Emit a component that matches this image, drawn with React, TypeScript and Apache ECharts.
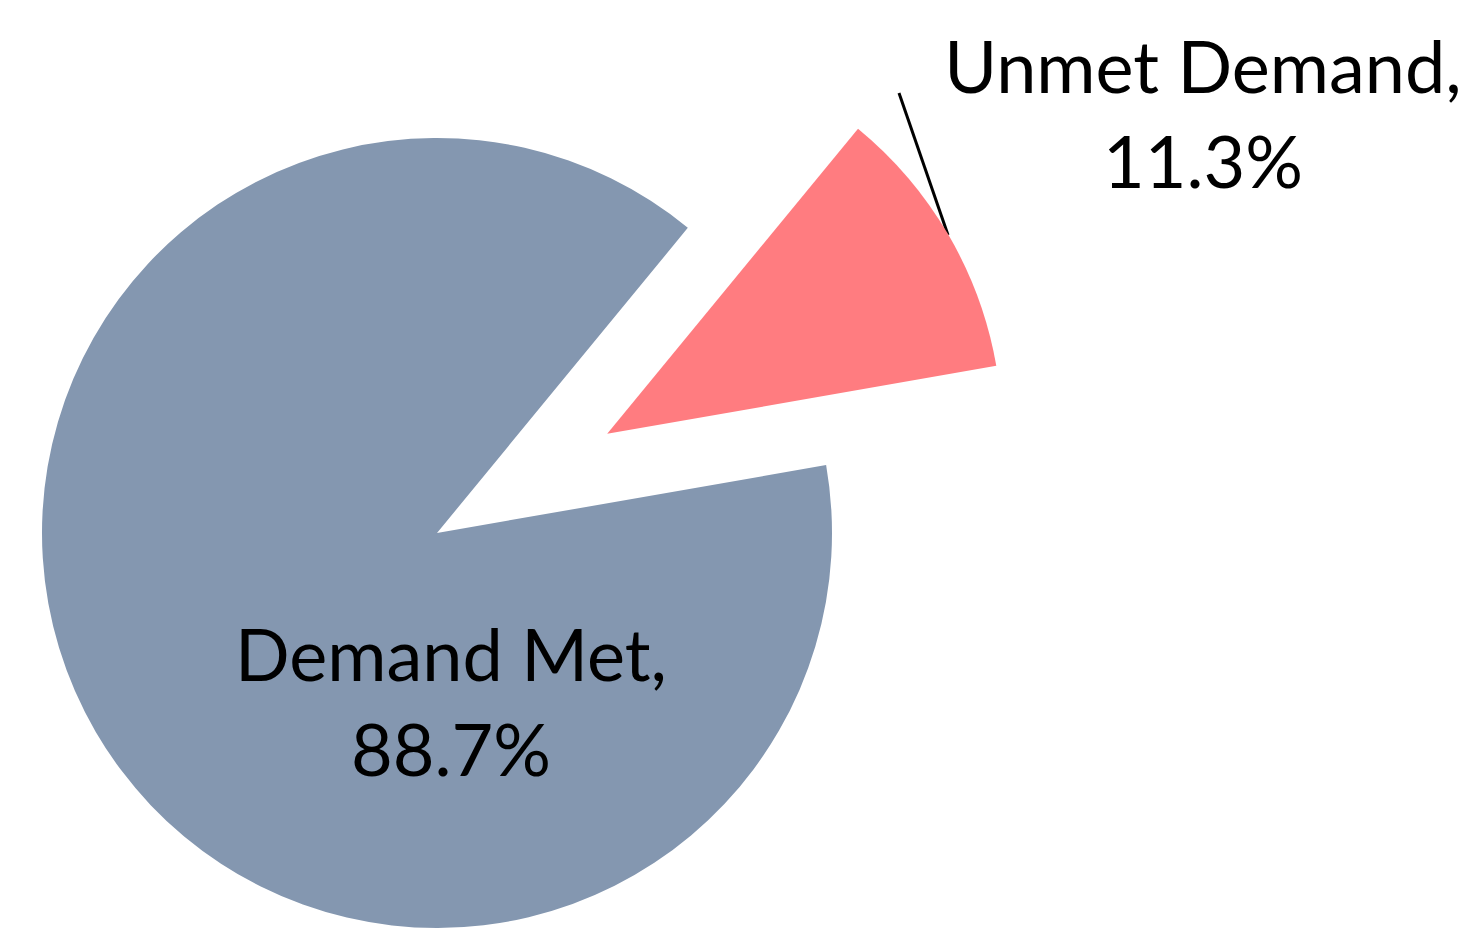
import React, { useEffect, useRef } from "react";
import * as echarts from "echarts";

const categories = ["Demand Met", "Unmet Demand"];
const values = [88.7, 11.3];
const colors = ["#8497B0", "#FF7C80"];
const explodedIndex = 1;

const labelText = (i: number) => `${categories[i]},\n${values[i]}%`;

export default function App() {
  const ref = useRef<HTMLDivElement>(null);
  useEffect(() => {
    const chart = echarts.init(ref.current!, null, { renderer: "svg" });
    const font = { fontFamily: "Lato", fontSize: 72, lineHeight: 95 };
    const option = {
      animation: false,
      backgroundColor: "#ffffff",
      graphic: [
        {
          type: "line",
          shape: { x1: 948, y1: 235, x2: 899, y2: 93 },
          style: { stroke: "#000000", lineWidth: 3 },
          silent: true,
        },
        {
          type: "text",
          x: 1203,
          y: 112,
          silent: true,
          style: {
            text: labelText(explodedIndex),
            ...font,
            fill: "#000000",
            align: "center",
            verticalAlign: "middle",
          },
        },
      ],
      series: [
        {
          type: "pie",
          center: [437, 533],
          radius: 395,
          startAngle: 9.9,
          clockwise: true,
          selectedMode: "single",
          selectedOffset: 197,
          emphasis: { disabled: true },
          silent: true,
          data: categories.map((name, i) => ({
            name,
            value: values[i],
            selected: i === explodedIndex,
            itemStyle: { color: colors[i] },
            label: { show: i !== explodedIndex, position: "inside" },
            labelLine: { show: false },
          })),
          label: {
            formatter: (p: any) => labelText(p.dataIndex),
            ...font,
            color: "#000000",
            align: "center",
          },
          labelLayout: (params: any) =>
            params.dataIndex === explodedIndex
              ? {}
              : { x: 451, y: 700, align: "center", verticalAlign: "middle" },
        },
      ],
    };
    chart.setOption(option);
    return () => chart.dispose();
  }, []);
  return (
    <div
      ref={ref}
      style={{ position: "fixed", left: 0, top: 0, width: 1474, height: 928 }}
    />
  );
}
